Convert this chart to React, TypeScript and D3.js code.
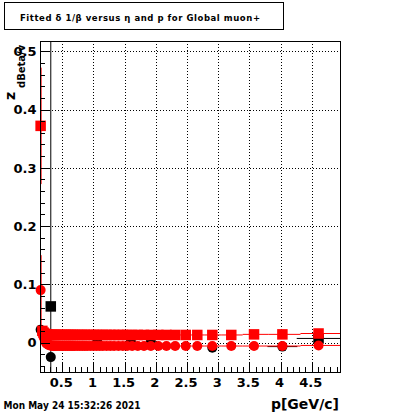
import React from "react";
import * as d3 from "d3";

// ---- data ----
const xTicks = [0.5, 1, 1.5, 2, 2.5, 3, 3.5, 4, 4.5];
const xTickLabels = ["0.5", "1", "1.5", "2", "2.5", "3", "3.5", "4", "4.5"];
const yTicks = [0, 0.1, 0.2, 0.3, 0.4, 0.5];
const yTickLabels = ["0", "0.1", "0.2", "0.3", "0.4", "0.5"];

// lowest momentum bin (large errors)
const lowP = [0.152];
const lowSquare = [0.372];
const lowSquareErr = [0.1];
const lowCircle = [0.09];
const lowCircleErr = [0.06];

// main red series (momentum bin centres)
const pBins = [
  0.18, 0.2, 0.22, 0.24, 0.26, 0.28, 0.3, 0.32, 0.34, 0.36, 0.38, 0.4, 0.43, 0.46, 0.49,
  0.52, 0.55, 0.58, 0.61, 0.64, 0.67, 0.7, 0.74, 0.78, 0.82, 0.86, 0.9, 0.95, 1.0, 1.05,
  1.1, 1.15, 1.21, 1.27, 1.33, 1.4, 1.47, 1.54, 1.62, 1.71, 1.81, 1.92, 2.04, 2.17, 2.31,
  2.48, 2.665, 2.906, 3.21, 3.575, 4.03, 4.61,
];
const redSquare = [
  0.02, 0.017, 0.015, 0.014, 0.0135, 0.013, 0.013, 0.013, 0.013, 0.013, 0.013, 0.013, 0.013,
  0.013, 0.013, 0.013, 0.013, 0.013, 0.013, 0.013, 0.013, 0.013, 0.013, 0.013, 0.013, 0.013,
  0.013, 0.013, 0.013, 0.013, 0.013, 0.013, 0.013, 0.013, 0.013, 0.013, 0.013, 0.013, 0.013,
  0.013, 0.013, 0.013, 0.013, 0.013, 0.013, 0.013, 0.013, 0.013, 0.013, 0.014, 0.014, 0.0155,
];
const redCircle = [
  0.016, 0.009, 0.003, -0.001, -0.003, -0.004, -0.005, -0.005, -0.006, -0.006, -0.006, -0.006,
  -0.006, -0.006, -0.006, -0.006, -0.006, -0.006, -0.006, -0.006, -0.006, -0.006, -0.006,
  -0.006, -0.006, -0.006, -0.006, -0.006, -0.006, -0.006, -0.006, -0.006, -0.006, -0.006,
  -0.006, -0.006, -0.006, -0.006, -0.006, -0.006, -0.006, -0.006, -0.006, -0.006, -0.006,
  -0.006, -0.006, -0.006, -0.006, -0.006, -0.006, -0.005,
];

// black series (mostly hidden behind red)
const blackSquareP = [0.315, 4.61];
const blackSquare = [0.062, 0.007];
const blackSquareErr = [0.6, 0.002];
const blackSquareDx = [0.0, 0.35];
const blackCircleP = [0.152, 0.315, 1.06, 1.6, 1.92, 2.906, 4.03];
const blackCircle = [0.022, -0.025, 0.0015, 0.0015, 0.0015, -0.009, -0.007];
const blackCircleDx = [0.0, 0.0, 0.08, 0.05, 0.06, 0.07, 0.24];

const W = 400;
const H = 414;
const FL = 40, FR = 340, FT = 41, FB = 372;

export default function App() {
  const x = d3.scaleLinear().domain([0.142, 4.954]).range([FL, FR]);
  const y = d3.scaleLinear().domain([-0.0506, 0.5177]).range([FB, FT]);
  const font = "'DejaVu Sans', sans-serif";

  const xMinor = d3.range(2, 50).map((v) => v / 10);
  const yMinor = d3.range(-2, 26).map((v) => v / 50);

  // bin edges from neighbouring centres
  const lo = pBins.map((p, i) => (i === 0 ? 0.165 : (p + pBins[i - 1]) / 2));
  const hi = pBins.map((p, i) => (i === pBins.length - 1 ? 4.954 : (p + pBins[i + 1]) / 2));

  const red = "#ff0000";
  const sq = 10.5;
  const r = 5;

  return (
    <svg
      width={W}
      height={H}
      style={{ position: "absolute", left: 0, top: 0, background: "#fff" }}
    >
      <rect x={0} y={0} width={W} height={H} fill="#fff" />
      {/* title box */}
      <rect x={4.5} y={2.5} width={279} height={27} fill="#fff" stroke="#000" strokeWidth={1} />
      <text
        x={20}
        y={21}
        fontFamily={font}
        fontWeight="bold"
        fontSize={8.5}
        textLength={240}
        lengthAdjust="spacing"
      >
        Fitted δ 1/β versus η and p for Global muon+
      </text>

      <defs>
        <clipPath id="frameClip">
          <rect x={FL} y={FT} width={FR - FL} height={FB - FT} />
        </clipPath>
      </defs>

      {/* grid */}
      <g stroke="#000" strokeWidth={1} strokeDasharray="1,2" shapeRendering="crispEdges">
        {xTicks.map((t) => (
          <line key={"gx" + t} x1={Math.round(x(t)) + 0.5} x2={Math.round(x(t)) + 0.5} y1={FT} y2={FB} />
        ))}
        {yTicks.map((t) => (
          <line key={"gy" + t} x1={FL} x2={FR} y1={Math.round(y(t)) + 0.5} y2={Math.round(y(t)) + 0.5} />
        ))}
      </g>

      {/* black series */}
      <g clipPath="url(#frameClip)" stroke="#000" strokeWidth={1}>
        {blackSquareP.map((p, i) => (
          <g key={"bsl" + i}>
            <line x1={x(p)} x2={x(p)} y1={y(blackSquare[i] - blackSquareErr[i])} y2={y(blackSquare[i] + blackSquareErr[i])} />
            <line x1={x(p - blackSquareDx[i])} x2={x(p + blackSquareDx[i])} y1={y(blackSquare[i])} y2={y(blackSquare[i])} />
          </g>
        ))}
        {blackCircleP.map((p, i) => (
          <line key={"bcl" + i} x1={x(p - blackCircleDx[i])} x2={x(p + blackCircleDx[i])} y1={y(blackCircle[i])} y2={y(blackCircle[i])} />
        ))}
      </g>
      <g fill="#000">
        {blackSquareP.map((p, i) => (
          <rect key={"bs" + i} x={x(p) - sq / 2} y={y(blackSquare[i]) - sq / 2} width={sq} height={sq} />
        ))}
        {blackCircleP.map((p, i) => (
          <circle key={"bc" + i} cx={x(p)} cy={y(blackCircle[i])} r={r} />
        ))}
      </g>

      {/* red series lines */}
      <g clipPath="url(#frameClip)" stroke={red} strokeWidth={1}>
        {pBins.map((p, i) => (
          <line key={"rsl" + i} x1={x(lo[i])} x2={x(hi[i])} y1={y(redSquare[i])} y2={y(redSquare[i])} />
        ))}
        {pBins.map((p, i) => (
          <line key={"rcl" + i} x1={x(lo[i])} x2={x(hi[i])} y1={y(redCircle[i])} y2={y(redCircle[i])} />
        ))}
        {lowP.map((p, i) => (
          <g key={"low" + i}>
            <line x1={x(p) + 0.5} x2={x(p) + 0.5} y1={y(lowSquare[i] - lowSquareErr[i])} y2={y(lowSquare[i] + lowSquareErr[i])} />
            <line x1={x(p) + 0.5} x2={x(p) + 0.5} y1={y(lowCircle[i] - lowCircleErr[i])} y2={y(lowCircle[i] + lowCircleErr[i])} />
          </g>
        ))}
      </g>
      {/* red markers */}
      <g fill={red}>
        {pBins.map((p, i) => (
          <rect key={"rs" + i} x={x(p) - sq / 2} y={y(redSquare[i]) - sq / 2} width={sq} height={sq} />
        ))}
        {pBins.map((p, i) => (
          <circle key={"rc" + i} cx={x(p)} cy={y(redCircle[i])} r={r} />
        ))}
        {lowP.map((p, i) => (
          <g key={"lowm" + i}>
            <rect x={x(p) - sq / 2} y={y(lowSquare[i]) - sq / 2} width={sq} height={sq} />
            <circle cx={x(p)} cy={y(lowCircle[i])} r={r} />
          </g>
        ))}
      </g>

      {/* frame */}
      <rect x={FL + 0.5} y={FT + 0.5} width={FR - FL} height={FB - FT} fill="none" stroke="#000" strokeWidth={1} shapeRendering="crispEdges" />

      {/* ticks */}
      <g stroke="#000" strokeWidth={1} shapeRendering="crispEdges">
        {xMinor.map((t) => (
          <line key={"xm" + t} x1={Math.round(x(t)) + 0.5} x2={Math.round(x(t)) + 0.5} y1={FB} y2={FB - 5} />
        ))}
        {xTicks.map((t) => (
          <line key={"xM" + t} x1={Math.round(x(t)) + 0.5} x2={Math.round(x(t)) + 0.5} y1={FB} y2={FB - 9} />
        ))}
        {yMinor.map((t) => (
          <line key={"ym" + t} x1={FL} x2={FL + 5} y1={Math.round(y(t)) + 0.5} y2={Math.round(y(t)) + 0.5} />
        ))}
        {yTicks.map((t) => (
          <line key={"yM" + t} x1={FL} x2={FL + 10} y1={Math.round(y(t)) + 0.5} y2={Math.round(y(t)) + 0.5} />
        ))}
      </g>

      {/* tick labels */}
      <g fontFamily={font} fontWeight="bold" fontSize={13} fill="#000">
        {xTicks.map((t, i) => (
          <text key={"xl" + t} x={x(t) - 1} y={387} textAnchor="middle">
            {xTickLabels[i]}
          </text>
        ))}
        {yTicks.map((t, i) => (
          <text key={"yl" + t} x={36.5} y={y(t) + 4.8} textAnchor="end">
            {yTickLabels[i]}
          </text>
        ))}
      </g>

      {/* axis titles */}
      <text x={339} y={409} textAnchor="end" fontFamily={font} fontWeight="bold" fontSize={14}>
        p[GeV/c]
      </text>
      <text transform="translate(15,100) rotate(-90)" fontFamily={font} fontWeight="bold" fontSize={14}>
        z
      </text>
      <text transform="translate(24.5,88) rotate(-90)" fontFamily={font} fontWeight="bold" fontSize={10}>
        dBeta/v
      </text>

      {/* date */}
      <text
        x={3.5}
        y={409}
        fontFamily={font}
        fontWeight="bold"
        fontSize={10.5}
        textLength={137}
        lengthAdjust="spacingAndGlyphs"
      >
        Mon May 24 15:32:26 2021
      </text>
    </svg>
  );
}
